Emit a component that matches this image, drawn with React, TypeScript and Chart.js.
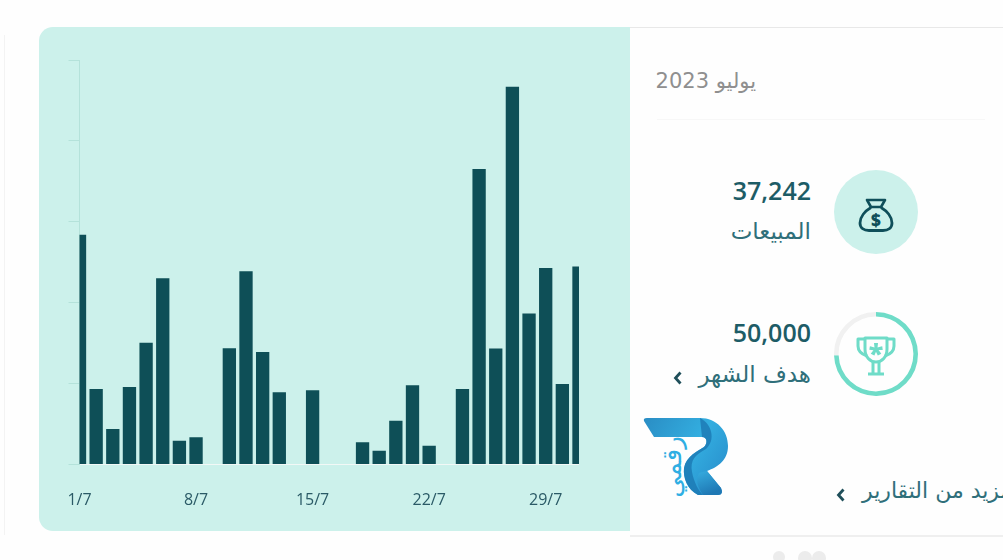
import React, { useEffect, useRef } from "react";
import { Chart, registerables } from "chart.js";

Chart.register(...registerables);

const days: string[] = [
  "1/7","2/7","3/7","4/7","5/7","6/7","7/7","8/7","9/7","10/7","11/7","12/7","13/7","14/7","15/7","16/7",
  "17/7","18/7","19/7","20/7","21/7","22/7","23/7","24/7","25/7","26/7","27/7","28/7","29/7","30/7","31/7",
];
const sales: number[] = [
  2840, 934, 439, 959, 1504, 2302, 295, 337, 0, 1436, 2389, 1392, 894, 0, 918, 0,
  0, 275, 171, 542, 980, 233, 0, 934, 3653, 1433, 4668, 1866, 2428, 996, 2448,
];
const shownTicks: string[] = ["1/7", "8/7", "15/7", "22/7", "29/7"];
const yTicks: number[] = [0, 1000, 2000, 3000, 4000, 5000];
const salesTotal = 37242;
const monthGoal = 50000;

const AR = '"DejaVu Sans", "Noto Sans", sans-serif';
const NUM = '"Open Sans", "Noto Sans", sans-serif';
const abs = (left: number, top: number, extra: React.CSSProperties = {}): React.CSSProperties => ({
  position: "absolute", left, top, ...extra,
});

function Chevron({ x, y }: { x: number; y: number }) {
  return (
    <svg style={abs(x, y)} width="12" height="16" viewBox="0 0 12 16">
      <path d="M8.5 2.5 L3.5 8 L8.5 13.5" fill="none" stroke="#1f4f5a" strokeWidth="2.8" />
    </svg>
  );
}

export default function App() {
  const barRef = useRef<HTMLCanvasElement>(null);
  const ringRef = useRef<HTMLCanvasElement>(null);

  useEffect(() => {
    document.body.style.margin = "0";
    document.body.style.background = "#fefefe";
    document.body.style.overflow = "hidden";
    const bars = new Chart(barRef.current!, {
      type: "bar",
      data: {
        labels: days,
        datasets: [{ data: sales, backgroundColor: "#0e4f57", barPercentage: 0.8, categoryPercentage: 1 }],
      },
      options: {
        animation: false,
        responsive: false,
        maintainAspectRatio: false,
        layout: { padding: { left: 0, right: 0, top: 0, bottom: 8.5 } },
        plugins: { legend: { display: false }, tooltip: { enabled: false } },
        scales: {
          x: {
            offset: false,
            afterFit: (s: any) => { s.paddingLeft = 0; s.paddingRight = 0; s.height = 67; },
            grid: { display: false, drawTicks: false, drawOnChartArea: false },
            border: { display: true, color: "#f2f8f6", width: 1 },
            ticks: {
              autoSkip: false,
              maxRotation: 0,
              minRotation: 0,
              padding: 26,
              color: "#2a5a66",
              font: { family: NUM, size: 16 },
              callback: (_v: any, i: number) => (shownTicks.includes(days[i]) ? days[i] : ""),
            },
          },
          y: {
            min: 0,
            max: 5000,
            afterFit: (s: any) => { s.width = 40.5; },
            afterBuildTicks: (s: any) => { s.ticks = yTicks.map((value) => ({ value })); },
            grid: { drawOnChartArea: false, drawTicks: true, tickLength: 11, color: "#b4e2da", lineWidth: 1 },
            border: { display: true, color: "#b4e2da", width: 1 },
            ticks: { display: false },
          },
        },
      },
    });
    const ring = new Chart(ringRef.current!, {
      type: "doughnut",
      data: {
        datasets: [{
          data: [salesTotal, monthGoal - salesTotal],
          backgroundColor: ["#6fdcc8", "#f1f1f1"],
          borderWidth: 0,
        }],
      },
      options: {
        animation: false,
        responsive: false,
        maintainAspectRatio: false,
        cutout: "89%",
        plugins: { legend: { display: false }, tooltip: { enabled: false } },
      },
    });
    return () => { bars.destroy(); ring.destroy(); };
  }, []);

  return (
    <div style={{ position: "absolute", left: 0, top: 0, width: 1003, height: 560, overflow: "hidden", background: "#fefefe" }}>
      <div style={abs(4, 35, { width: 1, height: 500, background: "#f3f3f3" })} />
      <div style={abs(630, 27, { width: 373, height: 1, background: "#e8e8e8" })} />
      <div style={abs(630, 535, { width: 373, height: 2, background: "#efefef" })} />
      <div style={abs(657, 119, { width: 328, height: 1, background: "#f7f7f7" })} />
      <div style={abs(39, 27, { width: 591, height: 504, background: "#ccf1eb", borderRadius: "14px 0 0 14px" })} />
      <canvas ref={barRef} width={540} height={480} style={abs(39, 59.5, { display: "block" })} />

      <div dir="rtl" style={abs(600, 66, { width: 156, fontFamily: AR, fontSize: 21, lineHeight: "30px", color: "#8f8f8f", whiteSpace: "nowrap" })}>يوليو 2023</div>

      <div style={abs(660, 172, { width: 151, textAlign: "right", fontFamily: NUM, fontSize: 25, fontWeight: 550, lineHeight: "36px", color: "#1d5c66" })}>37,242</div>
      <div dir="rtl" style={abs(660, 216, { width: 151, fontFamily: AR, fontSize: 23, lineHeight: "30px", color: "#2f6f7a", whiteSpace: "nowrap" })}>المبيعات</div>
      <div style={abs(834, 170, { width: 84, height: 84, borderRadius: "50%", background: "#ccf1eb" })} />
      <svg style={abs(834, 170)} width="84" height="84" viewBox="0 0 84 84">
        <path d="M33 30 H51 L47 37 H37 Z" fill="none" stroke="#0f4f5a" strokeWidth="2.6" strokeLinejoin="round" />
        <path d="M37 37.5 C31 41 26 47 26 53 C26 58 30 60.5 35 60.5 H49 C54 60.5 58 58 58 53 C58 47 53 41 47 37.5" fill="none" stroke="#0f4f5a" strokeWidth="2.8" />
        <text x="42" y="56" textAnchor="middle" fontFamily={NUM} fontSize="17" fontWeight="800" fill="#0f4f5a">$</text>
      </svg>

      <div style={abs(660, 314, { width: 151, textAlign: "right", fontFamily: NUM, fontSize: 25, fontWeight: 550, lineHeight: "36px", color: "#1d5c66" })}>50,000</div>
      <div dir="rtl" style={abs(660, 359, { width: 151, fontFamily: AR, fontSize: 23, lineHeight: "30px", color: "#2f6f7a", whiteSpace: "nowrap" })}>هدف الشهر</div>
      <Chevron x={672} y={370} />
      <canvas ref={ringRef} width={84} height={84} style={abs(834, 312, { display: "block" })} />
      <svg style={abs(834, 312)} width="84" height="84" viewBox="0 0 84 84">
        <g fill="none" stroke="#6fdcc8" strokeWidth="3" strokeLinejoin="round">
          <path d="M31 26 H53 V37 C53 45 48 50 42 50 C36 50 31 45 31 37 Z" />
          <path d="M31 27 H24 V34 C24 39 27 42 33 44" />
          <path d="M53 27 H60 V34 C60 39 57 42 51 44" />
          <path d="M39 50 V61 M45 50 V61 M34 62 H50" />
        </g>
        <text x="42" y="51" textAnchor="middle" fontFamily={NUM} fontSize="27" fontWeight="800" fill="#6fdcc8">*</text>
      </svg>

      <svg style={abs(640, 414)} width="92" height="86" viewBox="640 414 92 86">
        <defs>
          <linearGradient id="lg" x1="0" y1="0" x2="1" y2="0.6">
            <stop offset="0" stopColor="#2a8dc4" />
            <stop offset="0.6" stopColor="#33aee0" />
            <stop offset="1" stopColor="#2a93cf" />
          </linearGradient>
          <linearGradient id="lf" x1="0" y1="0" x2="0.4" y2="1">
            <stop offset="0" stopColor="#36ade0" />
            <stop offset="1" stopColor="#1f78b4" />
          </linearGradient>
        </defs>
        <path d="M644 421 Q643 418 647 418 L700 418 C717 418 728 431 728 446 C728 460 718 467 707 471 L721 488 Q724 495 718 495 L698 495 C687 489 683 478 684 468 C686 456 698 451 704 447 C708 443 707 437 702 437 L654 437 Z" fill="url(#lg)" />
        <path d="M700 418 C712 424 716 440 706 449 C695 455 690 460 692 472 C694 482 698 490 703 495 L698 495 C687 489 683 478 684 468 C686 456 698 451 704 447 C708 443 707 437 702 437 Z" fill="#1c78b3" opacity="0.8" />
        <path d="M707 471 L721 488 Q724 495 718 495 L703 495 C698 488 695 480 699 473 Z" fill="url(#lf)" />
        <text transform="translate(681 467) rotate(-90)" fontFamily={AR} fontSize="26" fill="#2faee3" textAnchor="middle">رقمي</text>
      </svg>

      <div dir="rtl" style={abs(862, 476, { width: 220, fontFamily: AR, fontSize: 22, lineHeight: "30px", color: "#2f6f7a", whiteSpace: "nowrap", textAlign: "left" })}>المزيد من التقارير</div>
      <Chevron x={835} y={487} />

      <div style={abs(773, 551, { width: 12, height: 12, borderRadius: "50%", background: "#ececec" })} />
      <div style={abs(798, 551, { width: 14, height: 14, borderRadius: "50%", background: "#ececec" })} />
      <div style={abs(812, 551, { width: 14, height: 14, borderRadius: "50%", background: "#ececec" })} />
    </div>
  );
}
